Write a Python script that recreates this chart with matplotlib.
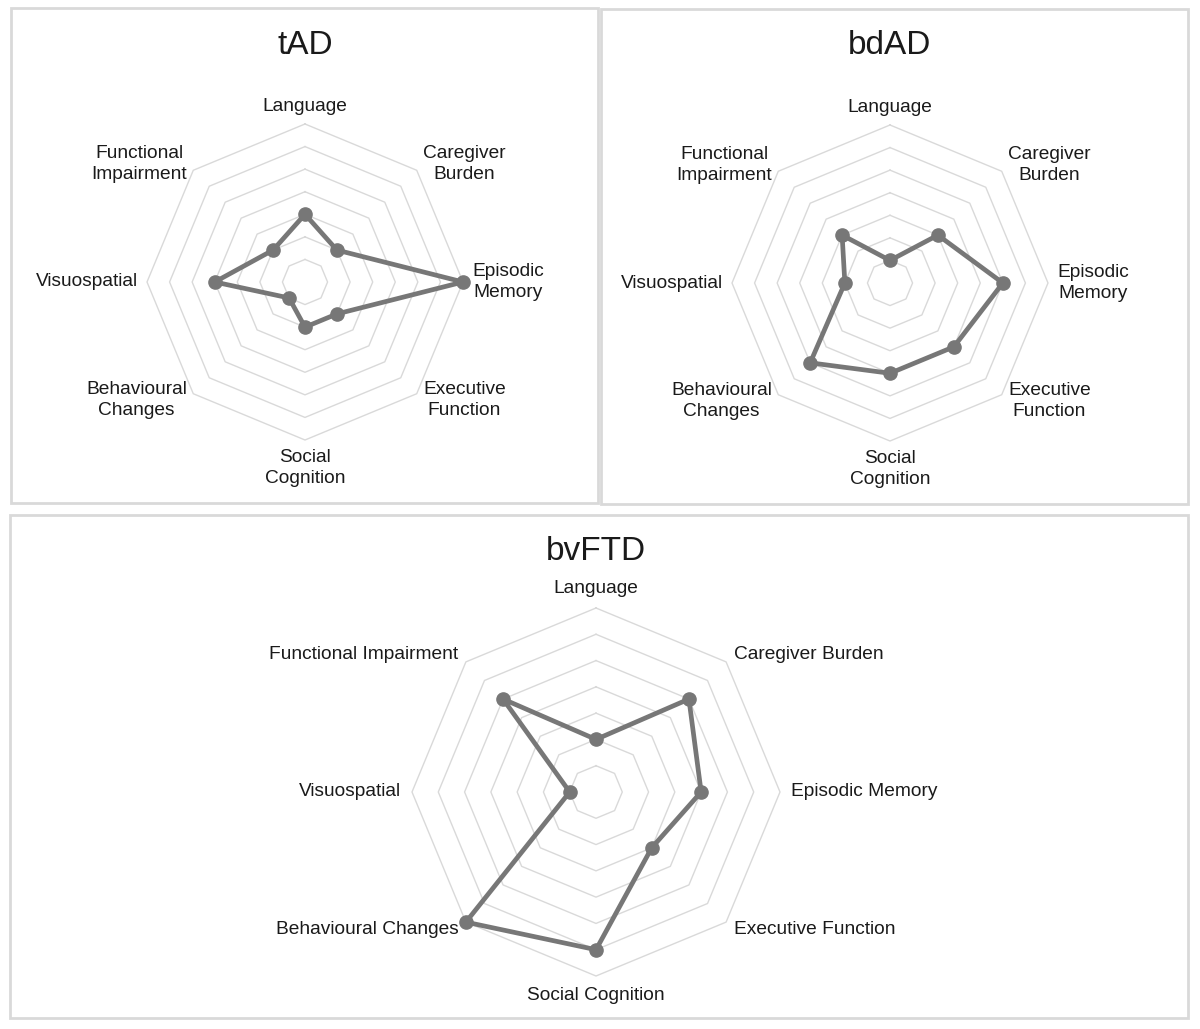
import numpy as np
import matplotlib
matplotlib.use("Agg")
import matplotlib.pyplot as plt
from matplotlib.patches import Rectangle

plt.rcParams['font.family'] = ['Liberation Sans', 'DejaVu Sans']

# Dados (ordem no sentido horário a partir do topo)
dominios = ["Language", "Caregiver\nBurden", "Episodic\nMemory", "Executive\nFunction",
            "Social\nCognition", "Behavioural\nChanges", "Visuospatial", "Functional\nImpairment"]
dominios_bvftd = ["Language", "Caregiver Burden", "Episodic Memory", "Executive Function",
                  "Social Cognition", "Behavioural Changes", "Visuospatial", "Functional Impairment"]

valores_tad = [3, 2, 7, 2, 2, 1, 4, 2]
valores_bdad = [1, 3, 5, 4, 4, 5, 2, 3]
valores_bvftd = [2, 5, 4, 3, 6, 7, 1, 5]

n_aneis = 7
cor_linha = "#777777"
cor_grade = "#d9d9d9"

fig = plt.figure(figsize=(12, 10.29), dpi=100)
W, H = 1200, 1029


def radar(centro, raio_px, valores, rotulos, titulo, pos_titulo):
    cx, cy = centro
    ax = fig.add_axes([(cx - raio_px) / W, (H - cy - raio_px) / H,
                       2 * raio_px / W, 2 * raio_px / H], projection="polar")
    ax.set_theta_offset(np.pi / 2)
    ax.set_theta_direction(-1)
    angulos = np.linspace(0, 2 * np.pi, len(valores), endpoint=False)
    ang_fechado = np.append(angulos, angulos[0])

    # Octógonos da grade
    for k in range(1, n_aneis + 1):
        ax.plot(ang_fechado, [k] * len(ang_fechado), color=cor_grade, lw=1.0,
                zorder=1, clip_on=False)

    # Série
    vals = np.append(valores, valores[0])
    ax.plot(ang_fechado, vals, color=cor_linha, lw=3.4, zorder=3, clip_on=False)
    ax.plot(angulos, valores, "o", color=cor_linha, markersize=9.5, zorder=4, clip_on=False)

    # Rótulos dos eixos
    r_rot = 7.4
    for a, txt in zip(angulos, rotulos):
        s, c = np.sin(a), np.cos(a)
        if abs(s) < 0.01:
            ha = "center"
            va = "bottom" if c > 0 else "top"
        else:
            ha = "left" if s > 0 else "right"
            va = "center"
        ax.text(a, r_rot, txt, ha=ha, va=va, multialignment="center", linespacing=1.3,
                fontsize=13.8, color="#1a1a1a", zorder=5)

    ax.set_ylim(0, n_aneis)
    ax.grid(False)
    ax.set_xticks([])
    ax.set_yticks([])
    ax.spines["polar"].set_visible(False)
    ax.patch.set_alpha(0)

    fig.text(pos_titulo[0] / W, 1 - pos_titulo[1] / H, titulo, ha="center", va="center",
             fontsize=24, color="#1a1a1a")


# Molduras dos painéis
for (x0, y0, x1, y1) in [(11, 8, 598, 503), (601, 9, 1188, 504), (10, 515, 1188, 1018)]:
    fig.patches.append(Rectangle((x0 / W, 1 - y1 / H), (x1 - x0) / W, (y1 - y0) / H,
                                 transform=fig.transFigure, fill=False,
                                 edgecolor=cor_grade, lw=2))

radar((305, 282), 158, valores_tad, dominios, "tAD", (305, 45))
radar((890, 283), 158, valores_bdad, dominios, "bdAD", (890, 45))
radar((596, 792), 184, valores_bvftd, dominios_bvftd, "bvFTD", (596, 552))

plt.savefig("out.png", dpi=100)
